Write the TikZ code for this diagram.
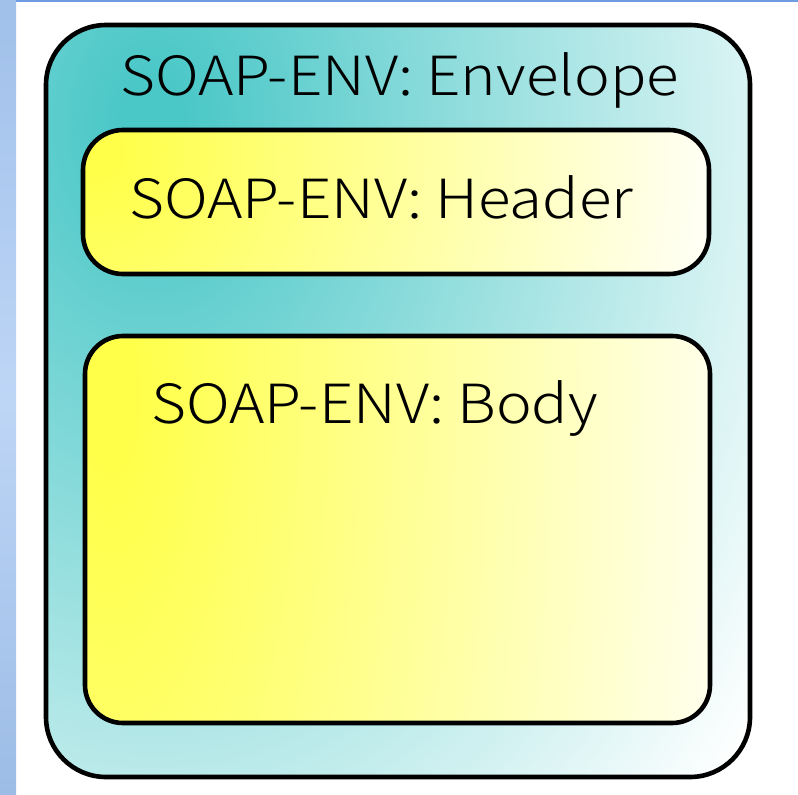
\documentclass[tikz,border=0pt]{standalone}
\usepackage{fontspec}
\setmainfont{Noto Sans CJK KR}[UprightFont=* Light, FakeStretch=1.115]
\definecolor{tealA}{RGB}{74,199,199}
\definecolor{yelA}{RGB}{255,255,74}
\definecolor{yelEnd}{RGB}{255,255,250}
\definecolor{stripTop}{RGB}{160,192,234}
\definecolor{stripMid}{RGB}{190,214,246}
\definecolor{stripBot}{RGB}{156,188,230}
\definecolor{topLine}{RGB}{110,156,226}
\pgfdeclareradialshading{envshade}{\pgfpoint{0bp}{0bp}}{color(0bp)=(tealA); color(1bp)=(tealA); color(25bp)=(white); color(100bp)=(white)}
\pgfdeclareradialshading{yelshade}{\pgfpoint{0bp}{0bp}}{color(0bp)=(yelA); color(1bp)=(yelA); color(25bp)=(yelEnd); color(100bp)=(yelEnd)}
\tikzset{
  border/.style={draw=black, line width=4.6pt},
  lbl/.style={anchor=base west, inner sep=0pt, font=\fontsize{54}{60}\selectfont, text=black}
}
\begin{document}
\begin{tikzpicture}[x=1pt,y=-1pt]
\useasboundingbox (0,0) rectangle (798,795);
\fill[white] (0,0) rectangle (798,795);
\shade[top color=stripTop, bottom color=stripBot, middle color=stripMid] (0,0) rectangle (16,795);
\fill[topLine] (16,0) rectangle (798,1.6);
% envelope
\begin{scope}
  \clip[rounded corners=60pt] (46,25) rectangle (750,777);
  \shade[shading=envshade] (-592,-905) rectangle (896,1151);
\end{scope}
\draw[border, rounded corners=60pt] (46,25) rectangle (750,777);
% header
\begin{scope}
  \clip[rounded corners=40pt] (83,130) rectangle (709,274);
  \shade[shading=yelshade] (-535,-550) rectangle (725,850);
\end{scope}
\draw[border, rounded corners=40pt] (83,130) rectangle (709,274);
% body
\begin{scope}
  \clip[rounded corners=38pt] (85,336) rectangle (710,723);
  \shade[shading=yelshade] (-550,-1405) rectangle (770,2195);
\end{scope}
\draw[border, rounded corners=38pt] (85,336) rectangle (710,723);
\node[lbl] (env) at (120,95) {SOAP-ENV: Envelope};
\node[lbl] (hdr) at (129,218) {SOAP-ENV: Header};
\node[lbl] (body) at (151,423) {SOAP-ENV: Body};
\end{tikzpicture}
\end{document}
